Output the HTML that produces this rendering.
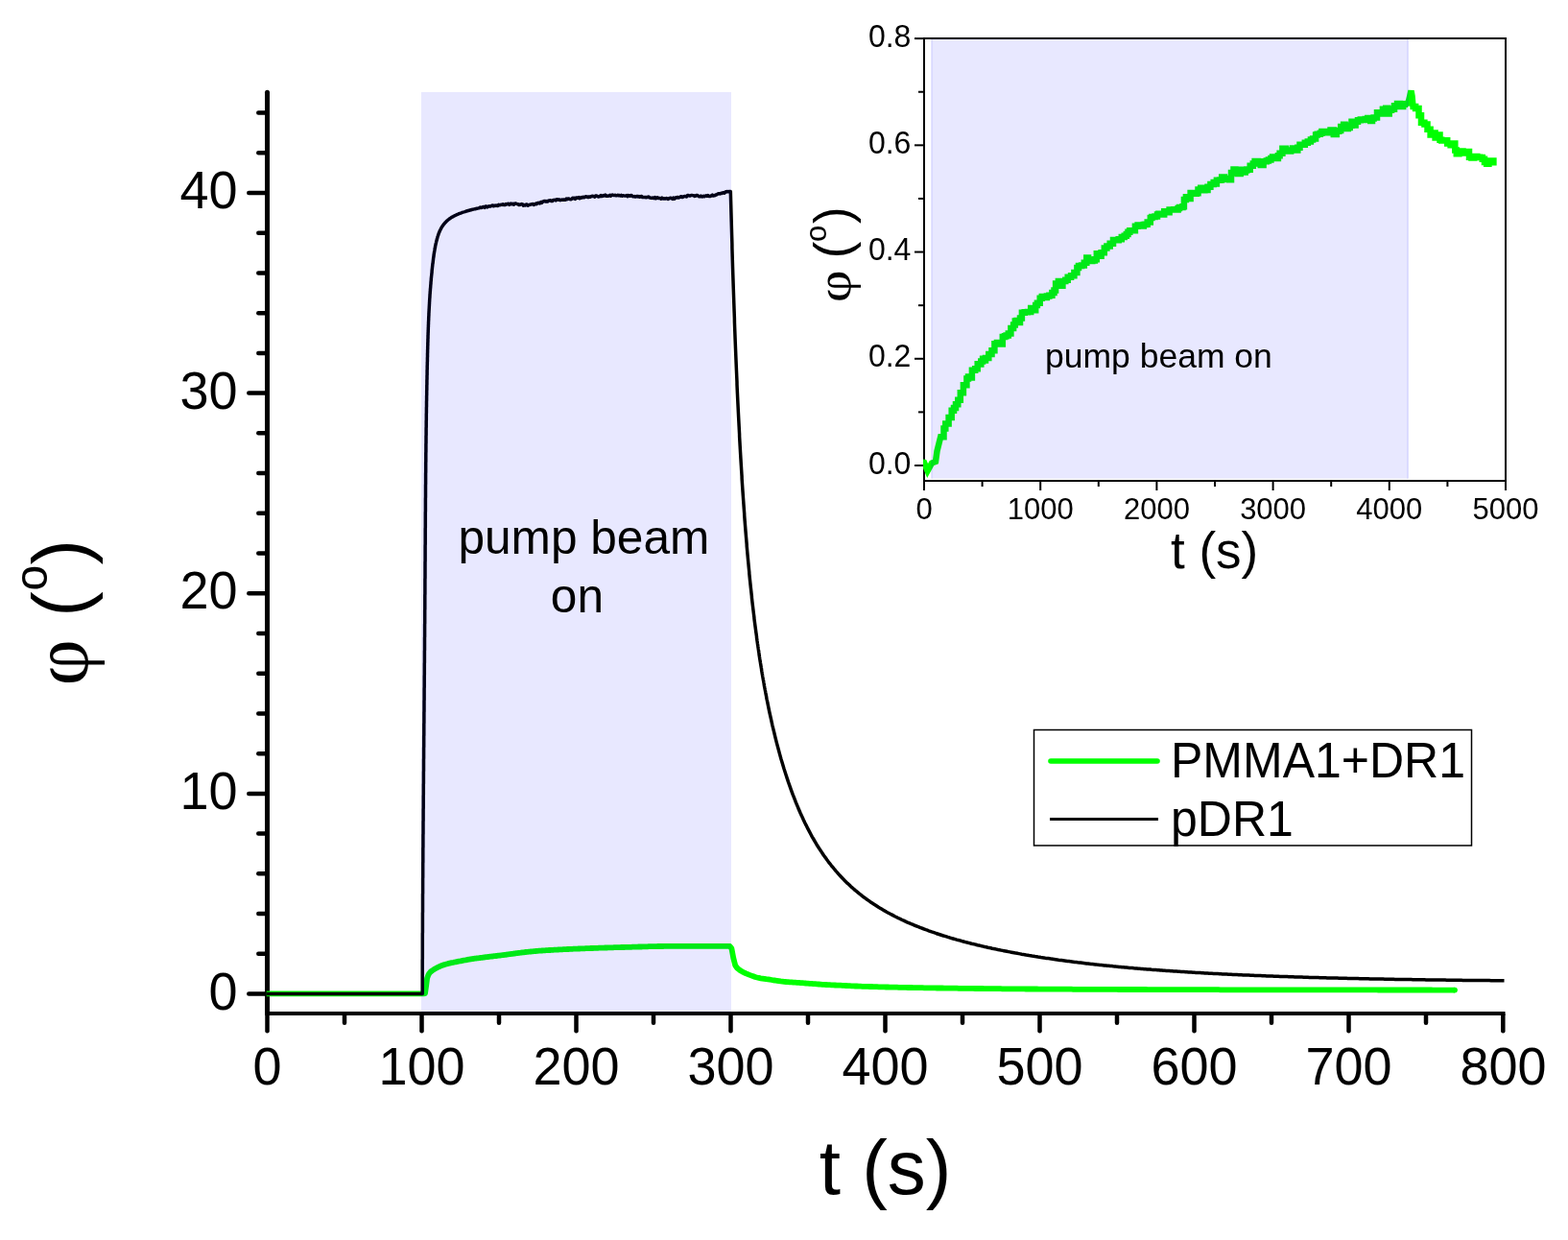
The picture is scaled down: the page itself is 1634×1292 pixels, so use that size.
<!DOCTYPE html>
<html><head><meta charset="utf-8"><title>plot</title>
<style>html,body{margin:0;padding:0;background:#fff;overflow:hidden}svg{display:block}</style>
</head><body>
<svg width="1634" height="1292" viewBox="0 0 1634 1292">
<rect x="0" y="0" width="1634" height="1292" fill="#ffffff"/>
<g stroke="#000" fill="none">
<line x1="278.5" y1="96.3" x2="278.5" y2="1056" stroke-width="5" stroke-linecap="round"/>
<line x1="276" y1="1056" x2="1568.5" y2="1056" stroke-width="4"/>
<line x1="259.3" y1="1035.50" x2="278" y2="1035.50" stroke-width="4.5" stroke-linecap="round"/>
<line x1="269.3" y1="993.77" x2="278" y2="993.77" stroke-width="4.5" stroke-linecap="round"/>
<line x1="269.3" y1="952.05" x2="278" y2="952.05" stroke-width="4.5" stroke-linecap="round"/>
<line x1="269.3" y1="910.33" x2="278" y2="910.33" stroke-width="4.5" stroke-linecap="round"/>
<line x1="269.3" y1="868.60" x2="278" y2="868.60" stroke-width="4.5" stroke-linecap="round"/>
<line x1="259.3" y1="826.88" x2="278" y2="826.88" stroke-width="4.5" stroke-linecap="round"/>
<line x1="269.3" y1="785.15" x2="278" y2="785.15" stroke-width="4.5" stroke-linecap="round"/>
<line x1="269.3" y1="743.42" x2="278" y2="743.42" stroke-width="4.5" stroke-linecap="round"/>
<line x1="269.3" y1="701.70" x2="278" y2="701.70" stroke-width="4.5" stroke-linecap="round"/>
<line x1="269.3" y1="659.97" x2="278" y2="659.97" stroke-width="4.5" stroke-linecap="round"/>
<line x1="259.3" y1="618.25" x2="278" y2="618.25" stroke-width="4.5" stroke-linecap="round"/>
<line x1="269.3" y1="576.52" x2="278" y2="576.52" stroke-width="4.5" stroke-linecap="round"/>
<line x1="269.3" y1="534.80" x2="278" y2="534.80" stroke-width="4.5" stroke-linecap="round"/>
<line x1="269.3" y1="493.07" x2="278" y2="493.07" stroke-width="4.5" stroke-linecap="round"/>
<line x1="269.3" y1="451.35" x2="278" y2="451.35" stroke-width="4.5" stroke-linecap="round"/>
<line x1="259.3" y1="409.62" x2="278" y2="409.62" stroke-width="4.5" stroke-linecap="round"/>
<line x1="269.3" y1="367.90" x2="278" y2="367.90" stroke-width="4.5" stroke-linecap="round"/>
<line x1="269.3" y1="326.17" x2="278" y2="326.17" stroke-width="4.5" stroke-linecap="round"/>
<line x1="269.3" y1="284.45" x2="278" y2="284.45" stroke-width="4.5" stroke-linecap="round"/>
<line x1="269.3" y1="242.73" x2="278" y2="242.73" stroke-width="4.5" stroke-linecap="round"/>
<line x1="259.3" y1="201.00" x2="278" y2="201.00" stroke-width="4.5" stroke-linecap="round"/>
<line x1="269.3" y1="159.27" x2="278" y2="159.27" stroke-width="4.5" stroke-linecap="round"/>
<line x1="269.3" y1="117.55" x2="278" y2="117.55" stroke-width="4.5" stroke-linecap="round"/>
<line x1="278.50" y1="1057" x2="278.50" y2="1074.3" stroke-width="4.5" stroke-linecap="round"/>
<line x1="359.00" y1="1057" x2="359.00" y2="1065.8" stroke-width="4.5" stroke-linecap="round"/>
<line x1="439.50" y1="1057" x2="439.50" y2="1074.3" stroke-width="4.5" stroke-linecap="round"/>
<line x1="520.00" y1="1057" x2="520.00" y2="1065.8" stroke-width="4.5" stroke-linecap="round"/>
<line x1="600.50" y1="1057" x2="600.50" y2="1074.3" stroke-width="4.5" stroke-linecap="round"/>
<line x1="681.00" y1="1057" x2="681.00" y2="1065.8" stroke-width="4.5" stroke-linecap="round"/>
<line x1="761.50" y1="1057" x2="761.50" y2="1074.3" stroke-width="4.5" stroke-linecap="round"/>
<line x1="842.00" y1="1057" x2="842.00" y2="1065.8" stroke-width="4.5" stroke-linecap="round"/>
<line x1="922.50" y1="1057" x2="922.50" y2="1074.3" stroke-width="4.5" stroke-linecap="round"/>
<line x1="1003.00" y1="1057" x2="1003.00" y2="1065.8" stroke-width="4.5" stroke-linecap="round"/>
<line x1="1083.50" y1="1057" x2="1083.50" y2="1074.3" stroke-width="4.5" stroke-linecap="round"/>
<line x1="1164.00" y1="1057" x2="1164.00" y2="1065.8" stroke-width="4.5" stroke-linecap="round"/>
<line x1="1244.50" y1="1057" x2="1244.50" y2="1074.3" stroke-width="4.5" stroke-linecap="round"/>
<line x1="1325.00" y1="1057" x2="1325.00" y2="1065.8" stroke-width="4.5" stroke-linecap="round"/>
<line x1="1405.50" y1="1057" x2="1405.50" y2="1074.3" stroke-width="4.5" stroke-linecap="round"/>
<line x1="1486.00" y1="1057" x2="1486.00" y2="1065.8" stroke-width="4.5" stroke-linecap="round"/>
<line x1="1566.30" y1="1057" x2="1566.30" y2="1074.3" stroke-width="4.5" stroke-linecap="round"/>
</g>
<polyline points="277.8,1035.3 441.5,1035.3 443.0,1035.2 444.1,1027.4 445.1,1019.4 446.2,1016.2 447.2,1014.3 448.3,1013.0 449.4,1012.0 450.4,1011.3 451.5,1010.6 452.5,1009.9 453.6,1009.3 454.6,1008.7 455.7,1008.1 456.8,1007.6 457.8,1007.1 458.9,1006.7 459.9,1006.2 461.0,1005.8 462.1,1005.4 463.1,1005.1 464.2,1004.8 465.2,1004.5 466.3,1004.2 467.4,1003.9 468.4,1003.7 469.5,1003.4 470.5,1003.2 471.6,1003.0 472.6,1002.8 473.7,1002.5 474.8,1002.3 475.8,1002.1 476.9,1001.9 477.9,1001.7 479.0,1001.5 480.1,1001.3 481.1,1001.1 482.2,1000.9 483.2,1000.7 484.3,1000.5 485.4,1000.3 486.4,1000.1 487.5,999.9 488.5,999.7 489.6,999.5 490.6,999.4 491.7,999.2 492.8,999.0 493.8,998.9 494.9,998.7 495.9,998.6 497.0,998.4 498.1,998.3 499.1,998.2 500.2,998.0 501.2,997.9 502.3,997.8 503.4,997.6 504.4,997.5 505.5,997.4 506.5,997.2 507.6,997.1 508.6,997.0 509.7,996.9 510.8,996.7 511.8,996.6 512.9,996.5 513.9,996.4 515.0,996.2 516.1,996.1 517.1,996.0 518.2,995.9 519.2,995.7 520.3,995.6 521.4,995.5 522.4,995.3 523.5,995.2 524.5,995.1 525.6,994.9 526.7,994.8 527.7,994.6 528.8,994.5 529.8,994.3 530.9,994.2 531.9,994.1 533.0,993.9 534.1,993.8 535.1,993.6 536.2,993.5 537.2,993.4 538.3,993.2 539.4,993.1 540.4,992.9 541.5,992.8 542.5,992.7 543.6,992.5 544.7,992.4 545.7,992.3 546.8,992.1 547.8,992.0 548.9,991.9 549.9,991.8 551.0,991.7 552.1,991.6 553.1,991.5 554.2,991.4 555.2,991.3 556.3,991.2 557.4,991.1 558.4,991.0 559.5,990.9 560.5,990.8 561.6,990.7 562.7,990.7 563.7,990.6 564.8,990.5 565.8,990.4 566.9,990.4 567.9,990.3 569.0,990.2 570.1,990.2 571.1,990.1 572.2,990.0 573.2,990.0 574.3,989.9 575.4,989.9 576.4,989.8 577.5,989.7 578.5,989.7 579.6,989.6 580.7,989.6 581.7,989.5 582.8,989.4 583.8,989.4 584.9,989.3 585.9,989.3 587.0,989.2 588.1,989.2 589.1,989.1 590.2,989.1 591.2,989.0 592.3,989.0 593.4,988.9 594.4,988.9 595.5,988.8 596.5,988.8 597.6,988.7 598.7,988.7 599.7,988.7 600.8,988.6 601.8,988.6 602.9,988.5 603.9,988.5 605.0,988.4 606.1,988.4 607.1,988.4 608.2,988.3 609.2,988.3 610.3,988.2 611.4,988.2 612.4,988.1 613.5,988.1 614.5,988.1 615.6,988.0 616.7,988.0 617.7,988.0 618.8,987.9 619.8,987.9 620.9,987.8 621.9,987.8 623.0,987.8 624.1,987.7 625.1,987.7 626.2,987.7 627.2,987.6 628.3,987.6 629.4,987.6 630.4,987.5 631.5,987.5 632.5,987.5 633.6,987.4 634.7,987.4 635.7,987.4 636.8,987.3 637.8,987.3 638.9,987.3 639.9,987.2 641.0,987.2 642.1,987.2 643.1,987.2 644.2,987.1 645.2,987.1 646.3,987.1 647.4,987.0 648.4,987.0 649.5,987.0 650.5,987.0 651.6,986.9 652.7,986.9 653.7,986.9 654.8,986.8 655.8,986.8 656.9,986.8 657.9,986.8 659.0,986.7 660.1,986.7 661.1,986.7 662.2,986.6 663.2,986.6 664.3,986.6 665.4,986.5 666.4,986.5 667.5,986.5 668.5,986.5 669.6,986.4 670.7,986.4 671.7,986.4 672.8,986.3 673.8,986.3 674.9,986.3 675.9,986.2 677.0,986.2 678.1,986.2 679.1,986.2 680.2,986.1 681.2,986.1 682.3,986.1 683.4,986.1 684.4,986.1 685.5,986.0 686.5,986.0 687.6,986.0 688.7,986.0 689.7,986.0 690.8,986.0 691.8,985.9 692.9,985.9 694.0,985.9 695.0,985.9 696.1,985.9 697.1,985.9 698.2,985.9 699.2,985.9 700.3,985.9 701.4,985.9 702.4,985.9 703.5,985.9 704.5,985.9 705.6,985.9 706.7,985.9 707.7,985.9 708.8,985.9 709.8,985.9 710.9,985.9 712.0,985.9 713.0,985.9 714.1,985.9 715.1,985.9 716.2,985.9 717.2,985.9 718.3,985.9 719.4,985.9 720.4,985.9 721.5,985.9 722.5,985.9 723.6,985.9 724.7,985.9 725.7,985.9 726.8,985.9 727.8,985.9 728.9,985.9 730.0,985.9 731.0,985.9 732.1,985.9 733.1,985.9 734.2,985.9 735.2,985.9 736.3,985.9 737.4,985.9 738.4,985.9 739.5,985.9 740.5,985.9 741.6,985.9 742.7,985.9 743.7,985.9 744.8,985.9 745.8,985.9 746.9,985.9 748.0,985.9 749.0,985.9 750.1,985.9 751.1,985.9 752.2,985.9 753.2,985.9 754.3,985.9 755.4,985.9 756.4,985.9 757.5,985.9 758.5,985.9 759.6,985.9 760.5,986.0 762.4,988.2 764.3,998.2 766.2,1005.8 768.1,1008.5 770.0,1010.2 771.9,1011.5 773.8,1012.6 775.6,1013.5 777.5,1014.3 779.4,1015.1 781.3,1015.9 783.2,1016.6 785.1,1017.3 787.0,1018.0 788.9,1018.5 790.8,1018.9 792.7,1019.3 794.6,1019.6 796.5,1019.9 798.4,1020.2 800.3,1020.4 802.2,1020.7 804.1,1021.0 805.9,1021.3 807.8,1021.5 809.7,1021.8 811.6,1022.1 813.5,1022.4 815.4,1022.6 817.3,1022.8 819.2,1023.0 821.1,1023.1 823.0,1023.3 824.9,1023.4 826.8,1023.6 828.7,1023.7 830.6,1023.8 832.5,1023.9 834.3,1024.1 836.2,1024.2 838.1,1024.3 840.0,1024.5 841.9,1024.6 843.8,1024.8 845.7,1024.9 847.6,1025.1 849.5,1025.2 851.4,1025.4 853.3,1025.5 855.2,1025.6 857.1,1025.8 859.0,1025.9 860.9,1026.0 862.7,1026.1 864.6,1026.2 866.5,1026.3 868.4,1026.4 870.3,1026.5 872.2,1026.6 874.1,1026.7 876.0,1026.7 877.9,1026.8 879.8,1026.9 881.7,1027.0 883.6,1027.1 885.5,1027.2 887.4,1027.3 889.3,1027.4 891.2,1027.5 893.0,1027.5 894.9,1027.6 896.8,1027.7 898.7,1027.8 900.6,1027.8 902.5,1027.9 904.4,1027.9 906.3,1028.0 908.2,1028.0 910.1,1028.1 912.0,1028.2 913.9,1028.2 915.8,1028.3 917.7,1028.3 919.6,1028.4 921.4,1028.4 923.3,1028.5 925.2,1028.5 927.1,1028.6 929.0,1028.6 930.9,1028.6 932.8,1028.7 934.7,1028.7 936.6,1028.8 938.5,1028.8 940.4,1028.8 942.3,1028.9 944.2,1028.9 946.1,1029.0 948.0,1029.0 949.8,1029.0 951.7,1029.1 953.6,1029.1 955.5,1029.1 957.4,1029.2 959.3,1029.2 961.2,1029.2 963.1,1029.3 965.0,1029.3 966.9,1029.3 968.8,1029.3 970.7,1029.4 972.6,1029.4 974.5,1029.4 976.4,1029.5 978.3,1029.5 980.1,1029.5 982.0,1029.5 983.9,1029.6 985.8,1029.6 987.7,1029.6 989.6,1029.6 991.5,1029.7 993.4,1029.7 995.3,1029.7 997.2,1029.7 999.1,1029.8 1001.0,1029.8 1002.9,1029.8 1004.8,1029.8 1006.7,1029.9 1008.5,1029.9 1010.4,1029.9 1012.3,1029.9 1014.2,1029.9 1016.1,1030.0 1018.0,1030.0 1019.9,1030.0 1021.8,1030.0 1023.7,1030.0 1025.6,1030.1 1027.5,1030.1 1029.4,1030.1 1031.3,1030.1 1033.2,1030.1 1035.1,1030.2 1036.9,1030.2 1038.8,1030.2 1040.7,1030.2 1042.6,1030.2 1044.5,1030.3 1046.4,1030.3 1048.3,1030.3 1050.2,1030.3 1052.1,1030.3 1054.0,1030.3 1055.9,1030.4 1057.8,1030.4 1059.7,1030.4 1061.6,1030.4 1063.5,1030.4 1065.4,1030.4 1067.2,1030.4 1069.1,1030.5 1071.0,1030.5 1072.9,1030.5 1074.8,1030.5 1076.7,1030.5 1078.6,1030.5 1080.5,1030.5 1082.4,1030.6 1084.3,1030.6 1086.2,1030.6 1088.1,1030.6 1090.0,1030.6 1091.9,1030.6 1093.8,1030.6 1095.6,1030.6 1097.5,1030.6 1099.4,1030.7 1101.3,1030.7 1103.2,1030.7 1105.1,1030.7 1107.0,1030.7 1108.9,1030.7 1110.8,1030.7 1112.7,1030.7 1114.6,1030.7 1116.5,1030.7 1118.4,1030.8 1120.3,1030.8 1122.2,1030.8 1124.0,1030.8 1125.9,1030.8 1127.8,1030.8 1129.7,1030.8 1131.6,1030.8 1133.5,1030.8 1135.4,1030.8 1137.3,1030.8 1139.2,1030.9 1141.1,1030.9 1143.0,1030.9 1144.9,1030.9 1146.8,1030.9 1148.7,1030.9 1150.6,1030.9 1152.5,1030.9 1154.3,1030.9 1156.2,1030.9 1158.1,1030.9 1160.0,1030.9 1161.9,1030.9 1163.8,1030.9 1165.7,1031.0 1167.6,1031.0 1169.5,1031.0 1171.4,1031.0 1173.3,1031.0 1175.2,1031.0 1177.1,1031.0 1179.0,1031.0 1180.9,1031.0 1182.7,1031.0 1184.6,1031.0 1186.5,1031.0 1188.4,1031.0 1190.3,1031.0 1192.2,1031.0 1194.1,1031.0 1196.0,1031.1 1197.9,1031.1 1199.8,1031.1 1201.7,1031.1 1203.6,1031.1 1205.5,1031.1 1207.4,1031.1 1209.3,1031.1 1211.1,1031.1 1213.0,1031.1 1214.9,1031.1 1216.8,1031.1 1218.7,1031.1 1220.6,1031.1 1222.5,1031.1 1224.4,1031.1 1226.3,1031.1 1228.2,1031.1 1230.1,1031.2 1232.0,1031.2 1233.9,1031.2 1235.8,1031.2 1237.7,1031.2 1239.6,1031.2 1241.4,1031.2 1243.3,1031.2 1245.2,1031.2 1247.1,1031.2 1249.0,1031.2 1250.9,1031.2 1252.8,1031.2 1254.7,1031.2 1256.6,1031.2 1258.5,1031.2 1260.4,1031.2 1262.3,1031.2 1264.2,1031.2 1266.1,1031.2 1268.0,1031.2 1269.8,1031.2 1271.7,1031.3 1273.6,1031.3 1275.5,1031.3 1277.4,1031.3 1279.3,1031.3 1281.2,1031.3 1283.1,1031.3 1285.0,1031.3 1286.9,1031.3 1288.8,1031.3 1290.7,1031.3 1292.6,1031.3 1294.5,1031.3 1296.4,1031.3 1298.2,1031.3 1300.1,1031.3 1302.0,1031.3 1303.9,1031.3 1305.8,1031.3 1307.7,1031.3 1309.6,1031.3 1311.5,1031.3 1313.4,1031.3 1315.3,1031.3 1317.2,1031.3 1319.1,1031.3 1321.0,1031.3 1322.9,1031.3 1324.8,1031.3 1326.7,1031.3 1328.5,1031.3 1330.4,1031.3 1332.3,1031.3 1334.2,1031.3 1336.1,1031.3 1338.0,1031.3 1339.9,1031.3 1341.8,1031.3 1343.7,1031.3 1345.6,1031.3 1347.5,1031.3 1349.4,1031.4 1351.3,1031.4 1353.2,1031.4 1355.1,1031.4 1356.9,1031.4 1358.8,1031.4 1360.7,1031.4 1362.6,1031.4 1364.5,1031.4 1366.4,1031.4 1368.3,1031.4 1370.2,1031.4 1372.1,1031.4 1374.0,1031.4 1375.9,1031.4 1377.8,1031.4 1379.7,1031.4 1381.6,1031.4 1383.5,1031.4 1385.3,1031.4 1387.2,1031.4 1389.1,1031.4 1391.0,1031.4 1392.9,1031.4 1394.8,1031.4 1396.7,1031.4 1398.6,1031.4 1400.5,1031.4 1402.4,1031.4 1404.3,1031.4 1406.2,1031.4 1408.1,1031.4 1410.0,1031.4 1411.9,1031.4 1413.8,1031.4 1415.6,1031.4 1417.5,1031.4 1419.4,1031.4 1421.3,1031.4 1423.2,1031.4 1425.1,1031.4 1427.0,1031.4 1428.9,1031.4 1430.8,1031.4 1432.7,1031.4 1434.6,1031.4 1436.5,1031.5 1438.4,1031.5 1440.3,1031.5 1442.2,1031.5 1444.0,1031.5 1445.9,1031.5 1447.8,1031.5 1449.7,1031.5 1451.6,1031.5 1453.5,1031.5 1455.4,1031.5 1457.3,1031.5 1459.2,1031.5 1461.1,1031.5 1463.0,1031.5 1464.9,1031.5 1466.8,1031.5 1468.7,1031.5 1470.6,1031.5 1472.4,1031.5 1474.3,1031.5 1476.2,1031.5 1478.1,1031.5 1480.0,1031.5 1481.9,1031.5 1483.8,1031.5 1485.7,1031.5 1487.6,1031.5 1489.5,1031.5 1491.4,1031.5 1493.3,1031.6 1495.2,1031.6 1497.1,1031.6 1499.0,1031.6 1500.9,1031.6 1502.7,1031.6 1504.6,1031.6 1506.5,1031.6 1508.4,1031.6 1510.3,1031.6 1512.2,1031.6 1514.1,1031.6 1516.0,1031.6" fill="none" stroke="#00ff00" stroke-width="5.8" stroke-linejoin="round" stroke-linecap="butt"/>
<circle cx="1516.0" cy="1031.6" r="2.9" fill="#00ff00"/>
<polyline points="277.8,1035.5 440.2,1035.5 440.2,1034.6 440.2,1033.6 440.2,1032.7 440.2,1031.8 440.2,1030.9 440.2,1029.9 440.2,1029.0 440.2,1028.1 440.2,1027.2 440.2,1026.2 440.2,1025.3 440.2,1024.4 440.2,1023.5 440.2,1022.5 440.2,1021.6 440.2,1020.7 440.2,1019.8 440.2,1018.8 440.2,1017.9 440.2,1017.0 440.2,1016.1 440.2,1015.1 440.2,1014.2 440.2,1013.3 440.2,1012.4 440.2,1011.4 440.2,1010.5 440.2,1009.6 440.2,1008.7 440.2,1007.7 440.2,1006.8 440.2,1005.9 440.2,1005.0 440.2,1004.0 440.2,1003.1 440.2,1002.2 440.2,1001.3 440.2,1000.3 440.3,999.4 440.3,998.5 440.3,997.6 440.3,996.6 440.3,995.7 440.3,994.8 440.3,993.9 440.3,992.9 440.3,992.0 440.3,991.1 440.3,990.2 440.3,989.2 440.3,988.3 440.3,987.4 440.3,986.4 440.3,985.5 440.3,984.6 440.3,983.7 440.3,982.7 440.3,981.8 440.3,980.9 440.3,980.0 440.3,979.0 440.3,978.1 440.3,977.2 440.3,976.3 440.3,975.3 440.3,974.4 440.3,973.5 440.3,972.6 440.4,971.6 440.4,970.7 440.4,969.8 440.4,968.9 440.4,967.9 440.4,967.0 440.4,966.1 440.4,965.2 440.4,964.2 440.4,963.3 440.4,962.4 440.4,961.5 440.4,960.5 440.4,959.6 440.4,958.7 440.4,957.8 440.4,956.8 440.4,955.9 440.4,955.0 440.4,954.1 440.4,953.1 440.4,952.2 440.4,951.3 440.5,950.4 440.5,949.4 440.5,948.5 440.5,947.6 440.5,946.7 440.5,945.7 440.5,944.8 440.5,943.9 440.5,943.0 440.5,942.0 440.5,941.1 440.5,940.2 440.5,939.2 440.5,938.3 440.5,937.4 440.5,936.5 440.5,935.5 440.5,934.6 440.5,933.7 440.5,932.8 440.5,931.8 440.6,930.9 440.6,930.0 440.6,929.1 440.6,928.1 440.6,927.2 440.6,926.3 440.6,925.4 440.6,924.4 440.6,923.5 440.6,922.6 440.6,921.7 440.6,920.7 440.6,919.8 440.6,918.9 440.6,918.0 440.6,917.0 440.6,916.1 440.6,915.2 440.7,914.3 440.7,913.3 440.7,912.4 440.7,911.5 440.7,910.6 440.7,909.6 440.7,908.7 440.7,907.8 440.7,906.9 440.7,905.9 440.7,905.0 440.7,904.1 440.7,903.2 440.7,902.2 440.7,901.3 440.7,900.4 440.7,899.5 440.8,898.5 440.8,897.6 440.8,896.7 440.8,895.8 440.8,894.8 440.8,893.9 440.8,893.0 440.8,892.0 440.8,891.1 440.8,890.2 440.8,889.3 440.8,888.3 440.8,887.4 440.8,886.5 440.8,885.6 440.8,884.6 440.8,883.7 440.9,882.8 440.9,881.9 440.9,880.9 440.9,880.0 440.9,879.1 440.9,878.2 440.9,877.2 440.9,876.3 440.9,875.4 440.9,874.5 440.9,873.5 440.9,872.6 440.9,871.7 440.9,870.8 440.9,869.8 441.0,868.9 441.0,868.0 441.0,867.1 441.0,866.1 441.0,865.2 441.0,864.3 441.0,863.4 441.0,862.4 441.0,861.5 441.0,860.6 441.0,859.7 441.0,858.7 441.0,857.8 441.0,856.9 441.0,856.0 441.1,855.0 441.1,854.1 441.1,853.2 441.1,852.3 441.1,851.3 441.1,850.4 441.1,849.5 441.1,848.6 441.1,847.6 441.1,846.7 441.1,845.8 441.1,844.9 441.1,843.9 441.1,843.0 441.2,842.1 441.2,841.1 441.2,840.2 441.2,839.3 441.2,838.4 441.2,837.4 441.2,836.5 441.2,835.6 441.2,834.7 441.2,833.7 441.2,832.8 441.2,831.9 441.2,831.0 441.2,830.0 441.2,829.1 441.3,828.2 441.3,827.3 441.3,826.3 441.3,825.4 441.3,824.5 441.3,823.6 441.3,822.6 441.3,821.7 441.3,820.8 441.3,819.9 441.3,818.9 441.3,818.0 441.3,817.1 441.4,816.2 441.4,815.2 441.4,814.3 441.4,813.4 441.4,812.5 441.4,811.5 441.4,810.6 441.4,809.7 441.4,808.8 441.4,807.8 441.4,806.9 441.4,806.0 441.4,805.1 441.4,804.1 441.5,803.2 441.5,802.3 441.5,801.4 441.5,800.4 441.5,799.5 441.5,798.6 441.5,797.7 441.5,796.7 441.5,795.8 441.5,794.9 441.5,794.0 441.5,793.0 441.5,792.1 441.5,791.2 441.6,790.2 441.6,789.3 441.6,788.4 441.6,787.5 441.6,786.5 441.6,785.6 441.6,784.7 441.6,783.8 441.6,782.8 441.6,781.9 441.6,781.0 441.6,780.1 441.6,779.1 441.7,778.2 441.7,777.3 441.7,776.4 441.7,775.4 441.7,774.5 441.7,773.6 441.7,772.7 441.7,771.7 441.7,770.8 441.7,769.9 441.7,769.0 441.7,768.0 441.7,767.1 441.8,766.2 441.8,765.3 441.8,764.3 441.8,763.4 441.8,762.5 441.8,761.6 441.8,760.6 441.8,759.7 441.8,758.8 441.8,757.9 441.8,756.9 441.8,756.0 441.8,755.1 441.8,754.2 441.9,753.2 441.9,752.3 441.9,751.4 441.9,750.5 441.9,749.5 441.9,748.6 441.9,747.7 441.9,746.8 441.9,745.8 441.9,744.9 441.9,744.0 441.9,743.1 441.9,742.1 442.0,741.2 442.0,740.3 442.0,739.3 442.0,738.4 442.0,737.5 442.0,736.6 442.0,735.6 442.0,734.7 442.0,733.8 442.0,732.9 442.0,731.9 442.0,731.0 442.0,730.1 442.1,729.2 442.1,728.2 442.1,727.3 442.1,726.4 442.1,725.5 442.1,724.5 442.1,723.6 442.1,722.7 442.1,721.8 442.1,720.8 442.1,719.9 442.1,719.0 442.1,718.1 442.1,717.1 442.2,716.2 442.2,715.3 442.2,714.4 442.2,713.4 442.2,712.5 442.2,711.6 442.2,710.7 442.2,709.7 442.2,708.8 442.2,707.9 442.2,707.0 442.2,706.0 442.2,705.1 442.2,704.2 442.3,703.3 442.3,702.3 442.3,701.4 442.3,700.5 442.3,699.6 442.3,698.6 442.3,697.7 442.3,696.8 442.3,695.9 442.3,694.9 442.3,694.0 442.3,693.1 442.3,692.2 442.3,691.2 442.4,690.3 442.4,689.4 442.4,688.4 442.4,687.5 442.4,686.6 442.4,685.7 442.4,684.7 442.4,683.8 442.4,682.9 442.4,682.0 442.4,681.0 442.4,680.1 442.4,679.2 442.4,678.3 442.5,677.3 442.5,676.4 442.5,675.5 442.5,674.6 442.5,673.6 442.5,672.7 442.5,671.8 442.5,670.9 442.5,669.9 442.5,669.0 442.5,668.1 442.5,667.2 442.5,666.2 442.5,665.3 442.5,664.4 442.6,663.5 442.6,662.5 442.6,661.6 442.6,660.7 442.6,659.8 442.6,658.8 442.6,657.9 442.6,657.0 442.6,656.1 442.6,655.1 442.6,654.2 442.6,653.3 442.6,652.4 442.6,651.4 442.6,650.5 442.7,649.6 442.7,648.7 442.7,647.7 442.7,646.8 442.7,645.9 442.7,645.0 442.7,644.0 442.7,643.1 442.7,642.2 442.7,641.2 442.7,640.3 442.7,639.4 442.7,638.5 442.7,637.5 442.7,636.6 442.7,635.7 442.8,634.8 442.8,633.8 442.8,632.9 442.8,632.0 442.8,631.1 442.8,630.1 442.8,629.2 442.8,628.3 442.8,627.4 442.8,626.4 442.8,625.5 442.8,624.6 442.8,623.7 442.8,622.7 442.8,621.8 442.8,620.9 442.8,620.0 442.9,619.0 442.9,618.1 442.9,617.2 442.9,616.3 442.9,615.3 442.9,614.4 442.9,613.5 442.9,612.6 442.9,611.6 442.9,610.7 442.9,609.8 442.9,608.9 442.9,607.9 442.9,607.0 442.9,606.1 442.9,605.2 442.9,604.2 442.9,603.3 443.0,602.4 443.0,601.5 443.0,600.5 443.0,599.6 443.0,598.7 443.0,597.8 443.0,596.8 443.0,595.9 443.0,595.0 443.0,594.0 443.0,593.1 443.0,592.2 443.0,591.3 443.0,590.3 443.0,589.4 443.0,588.5 443.0,587.6 443.0,586.6 443.0,585.7 443.1,584.8 443.1,583.9 443.1,582.9 443.1,582.0 443.1,581.1 443.1,580.2 443.1,579.2 443.1,578.3 443.1,577.4 443.1,576.5 443.1,575.5 443.1,574.6 443.1,573.7 443.1,572.8 443.1,571.8 443.1,570.9 443.1,570.0 443.1,569.1 443.1,568.1 443.2,567.2 443.2,566.3 443.2,565.4 443.2,564.4 443.2,563.5 443.2,562.6 443.2,561.7 443.2,560.7 443.2,559.8 443.2,558.9 443.2,558.0 443.2,557.0 443.2,556.1 443.2,555.2 443.2,554.3 443.2,553.3 443.2,552.4 443.2,551.5 443.2,550.6 443.3,549.6 443.3,548.7 443.3,547.8 443.3,546.8 443.3,545.9 443.3,545.0 443.3,544.1 443.3,543.1 443.3,542.2 443.3,541.3 443.3,540.4 443.3,539.4 443.3,538.5 443.3,537.6 443.3,536.7 443.3,535.7 443.3,534.8 443.3,533.9 443.4,533.0 443.4,532.0 443.4,531.1 443.4,530.2 443.4,529.3 443.4,528.3 443.4,527.4 443.4,526.5 443.4,525.6 443.4,524.6 443.4,523.7 443.4,522.8 443.4,521.9 443.4,520.9 443.4,520.0 443.4,519.1 443.5,518.2 443.5,517.2 443.5,516.3 443.5,515.4 443.5,514.5 443.5,513.5 443.5,512.6 443.5,511.7 443.5,510.8 443.5,509.8 443.5,508.9 443.5,508.0 443.5,507.1 443.5,506.1 443.5,505.2 443.6,504.3 443.6,503.4 443.6,502.4 443.6,501.5 443.6,500.6 443.6,499.7 443.6,498.7 443.6,497.8 443.6,496.9 443.6,495.9 443.6,495.0 443.6,494.1 443.6,493.2 443.7,492.2 443.7,491.3 443.7,490.4 443.7,489.5 443.7,488.5 443.7,487.6 443.7,486.7 443.7,485.8 443.7,484.8 443.7,483.9 443.7,483.0 443.7,482.1 443.8,481.1 443.8,480.2 443.8,479.3 443.8,478.4 443.8,477.4 443.8,476.5 443.8,475.6 443.8,474.7 443.8,473.7 443.8,472.8 443.8,471.9 443.9,471.0 443.9,470.0 443.9,469.1 443.9,468.2 443.9,467.3 443.9,466.3 443.9,465.4 443.9,464.5 443.9,463.6 443.9,462.6 444.0,461.7 444.0,460.8 444.0,459.9 444.0,458.9 444.0,458.0 444.0,457.1 444.0,456.2 444.0,455.2 444.0,454.3 444.1,453.4 444.1,452.5 444.1,451.5 444.1,450.6 444.1,449.7 444.1,448.8 444.1,447.8 444.1,446.9 444.1,446.0 444.2,445.0 444.2,444.1 444.2,443.2 444.2,442.3 444.2,441.3 444.2,440.4 444.2,439.5 444.2,438.6 444.3,437.6 444.3,436.7 444.3,435.8 444.3,434.9 444.3,433.9 444.3,433.0 444.3,432.1 444.3,431.2 444.4,430.2 444.4,429.3 444.4,428.4 444.4,427.5 444.4,426.5 444.4,425.6 444.4,424.7 444.5,423.8 444.5,422.8 444.5,421.9 444.5,421.0 444.5,420.1 444.5,419.1 444.5,418.2 444.6,417.3 444.6,416.4 444.6,415.4 444.6,414.5 444.6,413.6 444.6,412.7 444.7,411.7 444.7,410.8 444.7,409.9 444.7,409.0 444.7,408.0 444.7,407.1 444.8,406.2 444.8,405.3 444.8,404.3 444.8,403.4 444.8,402.5 444.8,401.6 444.9,400.6 444.9,399.7 444.9,398.8 444.9,397.9 444.9,396.9 444.9,396.0 445.0,395.1 445.0,394.2 445.0,393.2 445.0,392.3 445.0,391.4 445.1,390.5 445.1,389.5 445.1,388.6 445.1,387.7 445.1,386.8 445.1,385.8 445.2,384.9 445.2,384.0 445.2,383.0 445.2,382.1 445.2,381.2 445.3,380.3 445.3,379.3 445.3,378.4 445.3,377.5 445.4,376.6 445.4,375.6 445.4,374.7 445.4,373.8 445.4,372.9 445.5,371.9 445.5,371.0 445.5,370.1 445.5,369.2 445.5,368.2 445.6,367.3 445.6,366.4 445.6,365.5 445.6,364.5 445.7,363.6 445.7,362.7 445.7,361.8 445.7,360.8 445.8,359.9 445.8,359.0 445.8,358.1 445.8,357.1 445.9,356.2 445.9,355.3 445.9,354.4 445.9,353.4 446.0,352.5 446.0,351.6 446.0,350.7 446.0,349.7 446.1,348.8 446.1,347.9 446.1,347.0 446.2,346.0 446.2,345.1 446.2,344.2 446.3,343.3 446.3,342.3 446.3,341.4 446.4,340.5 446.4,339.6 446.4,338.6 446.5,337.7 446.5,336.8 446.5,335.9 446.6,334.9 446.6,334.0 446.7,333.1 446.7,332.2 446.7,331.2 446.8,330.3 446.8,329.4 446.9,328.5 446.9,327.5 446.9,326.6 447.0,325.7 447.0,324.8 447.1,323.8 447.1,322.9 447.2,322.0 447.2,321.1 447.3,320.2 447.3,319.2 447.4,318.3 447.4,317.4 447.5,316.5 447.5,315.5 447.6,314.6 447.6,313.7 447.7,312.8 447.7,311.8 447.8,310.9 447.9,310.0 447.9,309.1 448.0,308.1 448.0,307.2 448.1,306.3 448.2,305.4 448.2,304.5 448.3,303.5 448.4,302.6 448.4,301.7 448.5,300.8 448.6,299.8 448.7,298.9 448.7,298.0 448.8,297.1 448.9,296.1 449.0,295.2 449.0,294.3 449.1,293.4 449.2,292.5 449.3,291.5 449.3,290.6 449.4,289.7 449.5,288.8 449.6,287.8 449.7,286.9 449.8,286.0 449.9,285.1 450.0,284.2 450.1,283.2 450.1,282.3 450.2,281.4 450.3,280.5 450.4,279.6 450.5,278.6 450.6,277.7 450.7,276.8 450.8,275.9 450.9,274.9 451.1,274.0 451.2,273.1 451.3,272.2 451.4,271.3 451.5,270.3 451.6,269.4 451.7,268.5 451.9,267.6 452.0,266.7 452.1,265.8 452.2,264.8 452.4,263.9 452.5,263.0 452.7,262.1 452.8,261.2 453.0,260.3 453.1,259.4 453.3,258.5 453.5,257.6 453.6,256.7 453.8,255.7 454.0,254.8 454.2,253.9 454.4,253.1 454.6,252.2 454.8,251.3 455.1,250.4 455.3,249.5 455.5,248.6 455.8,247.7 456.0,246.8 456.3,246.0 456.6,245.1 456.9,244.2 457.2,243.3 457.5,242.5 457.9,241.6 458.3,240.8 458.6,239.9 459.1,239.1 459.5,238.3 459.9,237.5 460.4,236.6 460.9,235.8 461.5,235.1 462.0,234.3 462.6,233.5 463.2,232.8 463.8,232.1 464.5,231.4 465.1,230.8 465.8,230.1 466.5,229.5 467.2,228.9 467.9,228.4 468.6,227.8 469.4,227.3 470.1,226.8 470.9,226.3 471.7,225.9 472.5,225.4 473.3,225.0 474.1,224.6 474.9,224.2 475.7,223.8 476.6,223.4 477.4,223.1 478.3,222.7 479.1,222.4 480.0,222.1 480.9,221.8 481.7,221.4 482.6,221.1 483.5,220.9 484.4,220.6 485.2,220.3 486.1,220.0 487.0,219.8 487.9,219.5 488.8,219.3 489.7,219.0 490.6,218.8 491.5,218.5 492.4,218.3 493.3,218.1 494.2,217.9 495.1,217.7 496.0,217.5 496.9,217.3 497.8,217.1 498.7,216.9 499.7,216.7 500.6,216.0 501.5,216.4 502.4,216.3 503.3,215.4 504.2,215.4 505.1,216.3 506.0,215.0 507.0,214.9 507.9,215.9 508.8,215.3 509.7,214.8 510.6,214.9 511.5,214.9 512.4,214.3 513.3,214.0 514.3,214.7 515.2,214.5 516.1,214.1 517.0,214.4 517.9,214.0 518.8,214.5 519.7,213.3 520.7,213.7 521.6,213.5 522.5,213.2 523.4,213.4 524.3,212.8 525.2,213.6 526.2,213.6 527.1,212.5 528.0,212.9 528.9,212.5 529.9,212.2 530.8,213.3 531.7,212.6 532.6,212.1 533.6,212.8 534.5,212.2 535.4,213.2 536.3,212.2 537.3,212.0 538.2,212.3 539.1,212.6 540.0,212.8 540.9,213.5 541.9,213.3 542.8,212.9 543.7,212.6 544.6,212.9 545.5,214.2 546.4,213.5 547.4,213.9 548.3,213.0 549.2,213.0 550.1,214.1 551.0,213.7 551.9,213.3 552.8,213.2 553.7,212.8 554.7,212.8 555.6,212.5 556.5,213.4 557.4,212.7 558.3,212.1 559.2,212.7 560.1,211.7 561.0,211.3 561.9,211.8 562.8,211.9 563.7,210.5 564.6,211.3 565.5,210.2 566.4,209.8 567.3,209.5 568.2,209.6 569.1,210.1 570.0,209.6 570.9,209.9 571.8,208.9 572.8,208.9 573.7,208.7 574.6,209.6 575.5,209.5 576.4,208.5 577.3,208.6 578.3,208.3 579.2,208.9 580.1,207.8 581.0,207.8 581.9,208.2 582.9,207.9 583.8,208.7 584.7,208.4 585.6,208.1 586.5,208.2 587.5,208.1 588.4,208.2 589.3,208.3 590.2,207.1 591.1,207.7 592.1,206.9 593.0,207.2 593.9,207.6 594.8,207.7 595.8,207.4 596.7,206.3 597.6,206.7 598.5,206.3 599.4,207.4 600.4,206.1 601.3,206.1 602.2,206.2 603.1,205.6 604.1,206.7 605.0,206.3 605.9,205.5 606.8,205.9 607.8,205.2 608.7,205.8 609.6,205.2 610.5,204.8 611.4,204.9 612.4,205.4 613.3,205.4 614.2,204.9 615.1,205.2 616.1,204.7 617.0,204.3 617.9,204.5 618.8,204.6 619.8,205.2 620.7,204.0 621.6,203.9 622.5,204.5 623.5,205.0 624.4,204.8 625.3,204.5 626.2,203.5 627.1,204.5 628.1,204.3 629.0,203.5 629.9,203.9 630.8,203.2 631.8,204.3 632.7,204.1 633.6,204.2 634.5,204.1 635.5,203.4 636.4,204.1 637.3,203.3 638.2,203.1 639.1,203.5 640.1,203.6 641.0,203.3 641.9,203.8 642.8,203.8 643.8,203.3 644.7,203.8 645.6,203.5 646.5,204.0 647.4,203.4 648.4,204.2 649.3,203.7 650.2,203.9 651.1,204.1 652.1,203.9 653.0,203.6 653.9,204.7 654.8,203.5 655.7,203.9 656.7,204.2 657.6,203.5 658.5,203.8 659.4,204.7 660.4,204.8 661.3,204.6 662.2,205.1 663.1,204.9 664.0,204.4 665.0,204.9 665.9,204.6 666.8,205.2 667.7,204.8 668.7,204.5 669.6,205.6 670.5,205.4 671.4,205.6 672.3,205.4 673.3,205.8 674.2,205.4 675.1,205.6 676.0,205.0 677.0,205.8 677.9,206.2 678.8,206.2 679.7,206.4 680.6,206.0 681.6,206.6 682.5,205.6 683.4,206.8 684.3,206.1 685.3,205.8 686.2,206.6 687.1,206.5 688.0,206.5 689.0,207.2 689.9,206.2 690.8,207.0 691.7,206.8 692.7,207.0 693.6,207.0 694.5,206.5 695.4,207.0 696.3,207.5 697.3,206.6 698.2,206.3 699.1,206.3 700.0,206.8 700.9,207.4 701.8,206.0 702.8,207.2 703.7,206.4 704.6,205.7 705.5,205.9 706.4,205.4 707.3,206.0 708.2,205.6 709.1,205.0 710.1,204.8 711.0,205.5 711.9,205.2 712.8,204.6 713.7,204.4 714.6,204.7 715.5,205.0 716.5,203.6 717.4,203.6 718.3,203.9 719.2,204.0 720.2,203.4 721.1,203.4 722.0,203.6 722.9,203.8 723.9,204.4 724.8,204.2 725.7,203.4 726.7,203.5 727.6,204.1 728.5,204.7 729.5,204.8 730.4,204.1 731.3,204.8 732.2,204.9 733.2,204.2 734.1,204.7 735.0,204.1 735.9,203.8 736.8,204.4 737.8,203.6 738.7,204.4 739.6,204.5 740.5,204.5 741.4,203.7 742.3,203.1 743.2,204.0 744.1,203.8 745.0,203.7 745.9,203.0 746.8,202.9 747.7,202.3 748.6,201.8 749.5,201.7 750.4,202.0 751.3,201.2 752.2,201.5 753.1,201.0 754.0,200.7 754.9,201.2 755.8,199.9 756.7,200.1 757.7,199.5 758.6,199.8 759.5,199.6 760.4,199.5 761.3,199.4 761.6,209.7 761.7,213.3 761.8,216.9 761.9,220.5 762.0,224.0 762.1,227.6 762.2,231.1 762.3,234.5 762.4,238.0 762.5,241.4 762.6,244.8 762.7,248.1 762.8,251.4 762.9,254.7 762.9,258.0 763.0,261.3 763.1,264.5 763.2,267.7 763.3,270.9 763.4,274.0 763.5,277.2 763.6,280.3 763.7,283.3 763.8,286.4 763.9,289.4 764.0,292.4 764.1,295.4 764.2,298.4 764.3,301.3 764.4,304.2 764.5,307.1 764.6,310.0 764.7,312.9 764.8,315.7 764.9,318.5 765.0,321.3 765.1,324.1 765.2,326.8 765.3,329.5 765.4,332.2 765.4,334.9 765.5,337.6 765.6,340.2 765.7,342.8 765.8,345.4 765.9,348.0 766.0,350.6 766.1,353.1 766.2,355.7 766.3,358.2 766.4,360.7 766.5,363.2 766.6,365.6 766.7,368.0 766.8,370.5 766.9,372.9 767.0,375.3 767.1,377.6 767.2,380.0 767.3,382.3 767.4,384.6 767.5,386.9 767.6,389.2 767.7,391.5 767.8,393.7 767.9,396.0 768.0,398.2 768.0,400.4 768.1,402.6 768.2,404.8 768.3,406.9 768.4,409.1 768.5,411.2 768.6,413.3 768.7,415.4 768.8,417.5 768.9,419.6 769.0,421.6 769.1,423.7 769.2,425.7 769.3,427.7 769.4,429.7 769.5,431.7 769.6,433.7 769.7,435.6 769.8,437.6 769.9,439.5 770.0,441.4 770.1,443.3 770.2,445.2 770.3,447.1 770.4,449.0 770.5,450.8 770.6,452.7 770.6,454.5 770.7,456.3 770.8,458.1 770.9,459.9 771.0,461.7 771.1,463.5 771.2,465.2 771.3,467.0 771.4,468.7 771.5,470.5 771.6,472.2 771.7,473.9 771.8,475.6 771.9,477.3 772.0,478.9 772.1,480.6 772.2,482.3 772.3,483.9 772.4,485.5 772.5,487.1 772.6,488.8 772.7,490.4 772.8,491.9 772.9,493.5 773.0,495.1 773.1,496.7 773.1,498.2 773.2,499.8 773.3,501.3 773.4,502.8 773.5,504.3 773.6,505.8 773.7,507.3 773.8,508.8 773.9,510.3 774.0,511.8 774.1,513.2 774.2,514.7 774.3,516.1 774.4,517.5 774.5,519.0 774.6,520.4 774.7,521.8 774.8,523.2 774.9,524.6 775.0,526.0 775.1,527.3 775.2,528.7 775.3,530.1 775.4,531.4 775.5,532.8 775.6,534.1 775.7,535.4 775.7,536.7 775.8,538.1 775.9,539.4 776.0,540.7 776.1,542.0 776.2,543.2 776.3,544.5 776.4,545.8 776.5,547.0 776.6,548.3 776.7,549.5 776.8,550.8 776.9,552.0 777.0,553.3 777.1,554.5 777.2,555.7 777.3,556.9 777.4,558.1 777.5,559.3 777.6,560.5 777.7,561.7 777.8,562.8 777.9,564.0 778.0,565.2 778.1,566.3 778.2,567.5 778.2,568.6 778.3,569.8 778.4,570.9 778.5,572.0 778.6,573.1 778.7,574.2 778.8,575.4 778.9,576.5 779.0,577.6 779.1,578.6 779.2,579.7 779.3,580.8 779.4,581.9 779.5,583.0 779.6,584.0 779.7,585.1 779.8,586.1 779.9,587.2 780.0,588.2 780.1,589.3 780.2,590.3 780.3,591.3 780.4,592.3 780.5,593.4 780.6,594.4 780.7,595.4 780.8,596.4 780.8,597.4 780.9,598.4 781.0,599.4 781.1,600.3 781.2,601.3 781.3,602.3 781.4,603.3 781.5,604.2 781.6,605.2 781.7,606.1 781.8,607.1 781.9,608.0 782.0,609.0 782.1,609.9 782.2,610.8 782.3,611.8 782.4,612.7 782.5,613.6 782.6,614.5 782.7,615.4 782.8,616.3 782.9,617.2 783.0,618.1 783.1,619.0 783.2,619.9 783.3,620.8 783.4,621.7 783.4,622.6 783.5,623.5 783.6,624.3 783.7,625.2 783.8,626.1 783.9,626.9 784.0,627.8 784.1,628.6 784.2,629.5 784.3,630.3 784.4,631.1 784.5,632.0 784.6,632.8 784.7,633.6 784.8,634.5 784.9,635.3 785.0,636.1 785.1,636.9 785.2,637.7 785.3,638.6 785.4,639.4 785.5,640.2 785.6,641.0 785.7,641.8 785.8,642.5 785.9,643.3 785.9,644.1 786.0,644.9 786.1,645.7 786.2,646.5 786.3,647.2 786.4,648.0 786.5,648.8 786.6,649.5 786.7,650.3 786.8,651.0 786.9,651.8 787.0,652.5 787.1,653.3 787.2,654.0 787.3,654.8 787.4,655.5 787.5,656.3 787.6,657.0 787.7,657.7 787.8,658.4 787.9,659.2 788.0,659.9 788.1,660.6 788.2,661.3 788.3,662.0 788.4,662.8 788.5,663.5 788.5,664.2 788.6,664.9 788.7,665.6 788.8,666.3 788.9,667.0 789.0,667.7 789.1,668.3 789.2,669.0 789.3,669.7 789.4,670.4 789.5,671.1 789.6,671.7 789.7,672.4 789.8,673.1 789.9,673.8 790.0,674.4 790.1,675.1 790.2,675.8 790.3,676.4 790.4,677.1 790.5,677.7 790.6,678.4 790.7,679.0 790.8,679.7 790.9,680.3 791.0,681.0 791.0,681.6 791.1,682.2 791.2,682.9 791.3,683.5 791.4,684.1 791.5,684.8 791.6,685.4 791.7,686.0 791.8,686.7 791.9,687.3 792.0,687.9 792.1,688.5 792.2,689.1 792.3,689.7 792.4,690.3 792.5,691.0 792.6,691.6 792.7,692.2 792.8,692.8 792.9,693.4 793.0,694.0 793.1,694.6 793.2,695.2 793.3,695.8 793.4,696.3 793.5,696.9 793.6,697.5 793.6,698.1 793.7,698.7 793.8,699.3 793.9,699.8 794.0,700.4 794.1,701.0 794.2,701.6 794.3,702.1 794.4,702.7 794.5,703.3 794.6,703.8 794.7,704.4 794.8,705.0 794.9,705.5 795.0,706.1 795.1,706.6 795.2,707.2 795.3,707.8 795.4,708.3 795.5,708.9 795.6,709.4 795.7,709.9 795.8,710.5 795.9,711.0 796.0,711.6 796.1,712.1 796.2,712.7 796.2,713.2 796.3,713.7 796.4,714.3 796.5,714.8 796.6,715.3 796.7,715.8 796.8,716.4 796.9,716.9 797.0,717.4 797.1,717.9 797.2,718.5 797.3,719.0 797.4,719.5 797.5,720.0 797.6,720.5 797.7,721.0 797.8,721.6 797.9,722.1 798.0,722.6 798.1,723.1 798.2,723.6 798.3,724.1 798.4,724.6 798.5,725.1 798.6,725.6 798.7,726.1 798.7,726.6 798.8,727.1 798.9,727.6 799.0,728.1 799.1,728.6 799.2,729.0 799.3,729.5 799.4,730.0 799.5,730.5 799.6,731.0 799.7,731.5 799.8,732.0 799.9,732.4 800.0,732.9 800.2,733.9 801.7,741.3 803.3,748.4 804.8,755.3 806.4,761.8 807.9,768.1 809.4,774.1 811.0,780.0 812.5,785.6 814.0,791.0 815.6,796.2 817.1,801.3 818.7,806.2 820.2,810.9 821.7,815.4 823.3,819.8 824.8,824.1 826.3,828.2 827.9,832.2 829.4,836.1 831.0,839.9 832.5,843.5 834.0,847.0 835.6,850.4 837.1,853.8 838.6,857.0 840.2,860.1 841.7,863.2 843.3,866.1 844.8,869.0 846.3,871.8 847.9,874.5 849.4,877.1 850.9,879.7 852.5,882.2 854.0,884.6 855.6,886.9 857.1,889.2 858.6,891.5 860.2,893.6 861.7,895.8 863.2,897.8 864.8,899.8 866.3,901.8 867.9,903.7 869.4,905.5 870.9,907.4 872.5,909.1 874.0,910.9 875.5,912.5 877.1,914.2 878.6,915.8 880.2,917.4 881.7,918.9 883.2,920.4 884.8,921.8 886.3,923.3 887.8,924.7 889.4,926.0 890.9,927.4 892.5,928.7 894.0,929.9 895.5,931.2 897.1,932.4 898.6,933.6 900.1,934.8 901.7,935.9 903.2,937.0 904.8,938.1 906.3,939.2 907.8,940.3 909.4,941.3 910.9,942.3 912.5,943.3 914.0,944.3 915.5,945.3 917.1,946.2 918.6,947.1 920.1,948.0 921.7,948.9 923.2,949.8 924.8,950.7 926.3,951.5 927.8,952.3 929.4,953.1 930.9,953.9 932.4,954.7 934.0,955.5 935.5,956.3 937.1,957.0 938.6,957.7 940.1,958.5 941.7,959.2 943.2,959.9 944.7,960.6 946.3,961.3 947.8,961.9 949.4,962.6 950.9,963.2 952.4,963.9 954.0,964.5 955.5,965.1 957.0,965.7 958.6,966.3 960.1,966.9 961.7,967.5 963.2,968.1 964.7,968.7 966.3,969.2 967.8,969.8 969.3,970.3 970.9,970.9 972.4,971.4 974.0,971.9 975.5,972.5 977.0,973.0 978.6,973.5 980.1,974.0 981.6,974.5 983.2,975.0 984.7,975.4 986.3,975.9 987.8,976.4 989.3,976.8 990.9,977.3 992.4,977.8 993.9,978.2 995.5,978.6 997.0,979.1 998.6,979.5 1000.1,979.9 1001.6,980.3 1003.2,980.8 1004.7,981.2 1006.2,981.6 1007.8,982.0 1009.3,982.4 1010.9,982.8 1012.4,983.2 1013.9,983.5 1015.5,983.9 1017.0,984.3 1018.5,984.7 1020.1,985.0 1021.6,985.4 1023.2,985.8 1024.7,986.1 1026.2,986.5 1027.8,986.8 1029.3,987.2 1030.9,987.5 1032.4,987.8 1033.9,988.2 1035.5,988.5 1037.0,988.8 1038.5,989.1 1040.1,989.5 1041.6,989.8 1043.2,990.1 1044.7,990.4 1046.2,990.7 1047.8,991.0 1049.3,991.3 1050.8,991.6 1052.4,991.9 1053.9,992.2 1055.5,992.5 1057.0,992.8 1058.5,993.1 1060.1,993.3 1061.6,993.6 1063.1,993.9 1064.7,994.2 1066.2,994.4 1067.8,994.7 1069.3,995.0 1070.8,995.2 1072.4,995.5 1073.9,995.7 1075.4,996.0 1077.0,996.2 1078.5,996.5 1080.1,996.7 1081.6,997.0 1083.1,997.2 1084.7,997.5 1086.2,997.7 1087.7,997.9 1089.3,998.2 1090.8,998.4 1092.4,998.6 1093.9,998.8 1095.4,999.1 1097.0,999.3 1098.5,999.5 1100.0,999.7 1101.6,999.9 1103.1,1000.2 1104.7,1000.4 1106.2,1000.6 1107.7,1000.8 1109.3,1001.0 1110.8,1001.2 1112.3,1001.4 1113.9,1001.6 1115.4,1001.8 1117.0,1002.0 1118.5,1002.2 1120.0,1002.4 1121.6,1002.6 1123.1,1002.8 1124.6,1002.9 1126.2,1003.1 1127.7,1003.3 1129.3,1003.5 1130.8,1003.7 1132.3,1003.9 1133.9,1004.0 1135.4,1004.2 1137.0,1004.4 1138.5,1004.5 1140.0,1004.7 1141.6,1004.9 1143.1,1005.1 1144.6,1005.2 1146.2,1005.4 1147.7,1005.5 1149.3,1005.7 1150.8,1005.9 1152.3,1006.0 1153.9,1006.2 1155.4,1006.3 1156.9,1006.5 1158.5,1006.6 1160.0,1006.8 1161.6,1006.9 1163.1,1007.1 1164.6,1007.2 1166.2,1007.4 1167.7,1007.5 1169.2,1007.7 1170.8,1007.8 1172.3,1008.0 1173.9,1008.1 1175.4,1008.2 1176.9,1008.4 1178.5,1008.5 1180.0,1008.6 1181.5,1008.8 1183.1,1008.9 1184.6,1009.0 1186.2,1009.2 1187.7,1009.3 1189.2,1009.4 1190.8,1009.5 1192.3,1009.7 1193.8,1009.8 1195.4,1009.9 1196.9,1010.0 1198.5,1010.1 1200.0,1010.3 1201.5,1010.4 1203.1,1010.5 1204.6,1010.6 1206.1,1010.7 1207.7,1010.8 1209.2,1011.0 1210.8,1011.1 1212.3,1011.2 1213.8,1011.3 1215.4,1011.4 1216.9,1011.5 1218.4,1011.6 1220.0,1011.7 1221.5,1011.8 1223.1,1011.9 1224.6,1012.0 1226.1,1012.1 1227.7,1012.2 1229.2,1012.3 1230.7,1012.4 1232.3,1012.5 1233.8,1012.6 1235.4,1012.7 1236.9,1012.8 1238.4,1012.9 1240.0,1013.0 1241.5,1013.1 1243.1,1013.2 1244.6,1013.3 1246.1,1013.4 1247.7,1013.5 1249.2,1013.6 1250.7,1013.6 1252.3,1013.7 1253.8,1013.8 1255.4,1013.9 1256.9,1014.0 1258.4,1014.1 1260.0,1014.2 1261.5,1014.2 1263.0,1014.3 1264.6,1014.4 1266.1,1014.5 1267.7,1014.6 1269.2,1014.6 1270.7,1014.7 1272.3,1014.8 1273.8,1014.9 1275.3,1014.9 1276.9,1015.0 1278.4,1015.1 1280.0,1015.2 1281.5,1015.2 1283.0,1015.3 1284.6,1015.4 1286.1,1015.5 1287.6,1015.5 1289.2,1015.6 1290.7,1015.7 1292.3,1015.7 1293.8,1015.8 1295.3,1015.9 1296.9,1015.9 1298.4,1016.0 1299.9,1016.1 1301.5,1016.1 1303.0,1016.2 1304.6,1016.3 1306.1,1016.3 1307.6,1016.4 1309.2,1016.5 1310.7,1016.5 1312.2,1016.6 1313.8,1016.6 1315.3,1016.7 1316.9,1016.8 1318.4,1016.8 1319.9,1016.9 1321.5,1016.9 1323.0,1017.0 1324.5,1017.0 1326.1,1017.1 1327.6,1017.2 1329.2,1017.2 1330.7,1017.3 1332.2,1017.3 1333.8,1017.4 1335.3,1017.4 1336.8,1017.5 1338.4,1017.5 1339.9,1017.6 1341.5,1017.6 1343.0,1017.7 1344.5,1017.7 1346.1,1017.8 1347.6,1017.8 1349.2,1017.9 1350.7,1017.9 1352.2,1018.0 1353.8,1018.0 1355.3,1018.1 1356.8,1018.1 1358.4,1018.2 1359.9,1018.2 1361.5,1018.3 1363.0,1018.3 1364.5,1018.4 1366.1,1018.4 1367.6,1018.4 1369.1,1018.5 1370.7,1018.5 1372.2,1018.6 1373.8,1018.6 1375.3,1018.7 1376.8,1018.7 1378.4,1018.7 1379.9,1018.8 1381.4,1018.8 1383.0,1018.9 1384.5,1018.9 1386.1,1018.9 1387.6,1019.0 1389.1,1019.0 1390.7,1019.1 1392.2,1019.1 1393.7,1019.1 1395.3,1019.2 1396.8,1019.2 1398.4,1019.2 1399.9,1019.3 1401.4,1019.3 1403.0,1019.3 1404.5,1019.4 1406.0,1019.4 1407.6,1019.5 1409.1,1019.5 1410.7,1019.5 1412.2,1019.6 1413.7,1019.6 1415.3,1019.6 1416.8,1019.7 1418.3,1019.7 1419.9,1019.7 1421.4,1019.8 1423.0,1019.8 1424.5,1019.8 1426.0,1019.8 1427.6,1019.9 1429.1,1019.9 1430.6,1019.9 1432.2,1020.0 1433.7,1020.0 1435.3,1020.0 1436.8,1020.1 1438.3,1020.1 1439.9,1020.1 1441.4,1020.1 1442.9,1020.2 1444.5,1020.2 1446.0,1020.2 1447.6,1020.3 1449.1,1020.3 1450.6,1020.3 1452.2,1020.3 1453.7,1020.4 1455.2,1020.4 1456.8,1020.4 1458.3,1020.4 1459.9,1020.5 1461.4,1020.5 1462.9,1020.5 1464.5,1020.5 1466.0,1020.6 1467.6,1020.6 1469.1,1020.6 1470.6,1020.6 1472.2,1020.7 1473.7,1020.7 1475.2,1020.7 1476.8,1020.7 1478.3,1020.8 1479.9,1020.8 1481.4,1020.8 1482.9,1020.8 1484.5,1020.8 1486.0,1020.9 1487.5,1020.9 1489.1,1020.9 1490.6,1020.9 1492.2,1021.0 1493.7,1021.0 1495.2,1021.0 1496.8,1021.0 1498.3,1021.0 1499.8,1021.1 1501.4,1021.1 1502.9,1021.1 1504.5,1021.1 1506.0,1021.1 1507.5,1021.2 1509.1,1021.2 1510.6,1021.2 1512.1,1021.2 1513.7,1021.2 1515.2,1021.2 1516.8,1021.3 1518.3,1021.3 1519.8,1021.3 1521.4,1021.3 1522.9,1021.3 1524.4,1021.4 1526.0,1021.4 1527.5,1021.4 1529.1,1021.4 1530.6,1021.4 1532.1,1021.4 1533.7,1021.5 1535.2,1021.5 1536.7,1021.5 1538.3,1021.5 1539.8,1021.5 1541.4,1021.5 1542.9,1021.6 1544.4,1021.6 1546.0,1021.6 1547.5,1021.6 1549.0,1021.6 1550.6,1021.6 1552.1,1021.6 1553.7,1021.7 1555.2,1021.7 1556.7,1021.7 1558.3,1021.7 1559.8,1021.7 1561.3,1021.7 1562.9,1021.7 1564.4,1021.8 1566.0,1021.8 1567.5,1021.8" fill="none" stroke="#000000" stroke-width="3.5" stroke-linejoin="round" stroke-linecap="butt"/>
<rect x="439" y="96" width="323" height="958" fill="#0000ff" fill-opacity="0.09"/>
<g font-family="'Liberation Sans', Arial, sans-serif" font-size="54" fill="#000">
<text transform="translate(278.50,1129.6) scale(1,1.04)" text-anchor="middle">0</text>
<text transform="translate(439.50,1129.6) scale(1,1.04)" text-anchor="middle">100</text>
<text transform="translate(600.50,1129.6) scale(1,1.04)" text-anchor="middle">200</text>
<text transform="translate(761.50,1129.6) scale(1,1.04)" text-anchor="middle">300</text>
<text transform="translate(922.50,1129.6) scale(1,1.04)" text-anchor="middle">400</text>
<text transform="translate(1083.50,1129.6) scale(1,1.04)" text-anchor="middle">500</text>
<text transform="translate(1244.50,1129.6) scale(1,1.04)" text-anchor="middle">600</text>
<text transform="translate(1405.50,1129.6) scale(1,1.04)" text-anchor="middle">700</text>
<text transform="translate(1566.50,1129.6) scale(1,1.04)" text-anchor="middle">800</text>
<text transform="translate(247.5,1051.70) scale(1,1.04)" text-anchor="end">0</text>
<text transform="translate(247.5,843.08) scale(1,1.04)" text-anchor="end">10</text>
<text transform="translate(247.5,634.45) scale(1,1.04)" text-anchor="end">20</text>
<text transform="translate(247.5,425.82) scale(1,1.04)" text-anchor="end">30</text>
<text transform="translate(247.5,217.20) scale(1,1.04)" text-anchor="end">40</text>
</g>
<text font-family="'Liberation Sans', Arial, sans-serif" font-size="49.6" fill="#000" text-anchor="middle"><tspan x="608.4" y="576.9">pump beam</tspan><tspan x="601.4" y="637.5">on</tspan></text>
<text font-family="'Liberation Sans', Arial, sans-serif" font-size="80" x="853.7" y="1244.3" fill="#000">t (s)</text>
<g transform="rotate(-90)" fill="#000"><text font-family="'Liberation Serif', 'Times New Roman', serif" font-size="83" x="-714.3" y="90.6">φ</text><text font-family="'Liberation Sans', Arial, sans-serif" font-size="79.5"><tspan x="-642.8" y="89.5">(</tspan><tspan x="-615.5" y="49" font-size="48">o</tspan><tspan x="-588.5" y="89.5">)</tspan></text></g>
<rect x="1077.5" y="760.5" width="456" height="120.5" fill="none" stroke="#000" stroke-width="1.5"/>
<line x1="1095" y1="793" x2="1206" y2="793" stroke="#00ff00" stroke-width="5.6" stroke-linecap="round"/>
<line x1="1094" y1="853.5" x2="1207" y2="853.5" stroke="#000" stroke-width="3"/>
<text font-family="'Liberation Sans', Arial, sans-serif" font-size="50" fill="#000" transform="translate(1220,809.8) scale(1,1.035)">PMMA1+DR1</text>
<text font-family="'Liberation Sans', Arial, sans-serif" font-size="50" fill="#000" transform="translate(1220,870.8) scale(1,1.035)">pDR1</text>
<rect x="963" y="40" width="606" height="461" fill="none" stroke="#000" stroke-width="2"/>
<g stroke="#000" stroke-width="2">
<line x1="953" y1="485.00" x2="963" y2="485.00"/>
<line x1="957" y1="429.39" x2="963" y2="429.39"/>
<line x1="953" y1="373.78" x2="963" y2="373.78"/>
<line x1="957" y1="318.17" x2="963" y2="318.17"/>
<line x1="953" y1="262.56" x2="963" y2="262.56"/>
<line x1="957" y1="206.95" x2="963" y2="206.95"/>
<line x1="953" y1="151.34" x2="963" y2="151.34"/>
<line x1="957" y1="95.73" x2="963" y2="95.73"/>
<line x1="953" y1="40.12" x2="963" y2="40.12"/>
<line x1="963.00" y1="501" x2="963.00" y2="511"/>
<line x1="1023.60" y1="501" x2="1023.60" y2="507"/>
<line x1="1084.20" y1="501" x2="1084.20" y2="511"/>
<line x1="1144.80" y1="501" x2="1144.80" y2="507"/>
<line x1="1205.40" y1="501" x2="1205.40" y2="511"/>
<line x1="1266.00" y1="501" x2="1266.00" y2="507"/>
<line x1="1326.60" y1="501" x2="1326.60" y2="511"/>
<line x1="1387.20" y1="501" x2="1387.20" y2="507"/>
<line x1="1447.80" y1="501" x2="1447.80" y2="511"/>
<line x1="1508.40" y1="501" x2="1508.40" y2="507"/>
<line x1="1569.00" y1="501" x2="1569.00" y2="511"/>
</g>
<defs><clipPath id="ic"><rect x="962" y="0" width="700" height="600"/></clipPath></defs>
<polyline clip-path="url(#ic)" points="960.0,481.5 963.0,482.0 966.6,490.5 971.0,482.5 975.0,481.0 976.5,470.0 978.5,462.0 980.2,455.2 983.5,455.2 983.5,446.4 985.3,446.4 985.3,441.4 988.6,441.4 988.6,435.0 991.7,435.0 991.7,427.7 994.0,427.7 994.0,424.9 996.0,424.9 996.0,421.2 998.3,421.2 998.3,416.7 1000.8,416.7 1000.8,409.2 1003.9,409.2 1003.9,401.3 1007.4,401.3 1007.4,394.4 1009.0,394.4 1009.0,392.4 1010.4,392.4 1010.4,393.6 1012.9,393.6 1012.9,385.8 1016.2,385.8 1016.2,384.3 1018.7,384.3 1018.7,379.2 1020.6,379.2 1020.6,379.5 1022.3,379.5 1022.3,376.5 1024.1,376.5 1024.1,373.8 1025.4,373.8 1025.4,375.6 1027.0,375.6 1027.0,373.0 1030.3,373.0 1030.3,369.1 1033.5,369.1 1033.5,365.2 1036.4,365.2 1036.4,358.2 1038.9,358.2 1038.9,357.1 1042.2,357.1 1042.2,358.5 1044.8,358.5 1044.8,351.0 1047.0,351.0 1047.0,350.2 1048.6,350.2 1048.6,349.5 1050.8,349.5 1050.8,347.6 1053.4,347.6 1053.4,342.1 1056.1,342.1 1056.1,338.4 1057.8,338.4 1057.8,334.6 1059.6,334.6 1059.6,333.9 1061.2,333.9 1061.2,335.9 1063.0,335.9 1063.0,331.6 1064.9,331.6 1064.9,325.7 1067.7,325.7 1067.7,325.3 1070.9,325.3 1070.9,325.0 1074.2,325.0 1074.2,321.0 1075.8,321.0 1075.8,323.2 1079.2,323.2 1079.2,317.9 1080.9,317.9 1080.9,315.7 1083.7,315.7 1083.7,310.7 1085.8,310.7 1085.8,309.0 1087.7,309.0 1087.7,309.9 1090.9,309.9 1090.9,308.4 1093.4,308.4 1093.4,307.7 1096.4,307.7 1096.4,304.9 1098.5,304.9 1098.5,302.4 1100.1,302.4 1100.1,295.5 1102.9,295.5 1102.9,293.0 1105.4,293.0 1105.4,297.7 1107.4,297.7 1107.4,293.1 1110.3,293.1 1110.3,291.8 1112.7,291.8 1112.7,288.8 1116.1,288.8 1116.1,287.3 1119.4,287.3 1119.4,283.9 1122.4,283.9 1122.4,279.1 1124.0,279.1 1124.0,277.0 1127.1,277.0 1127.1,276.6 1129.8,276.6 1129.8,273.8 1132.3,273.8 1132.3,268.5 1134.1,268.5 1134.1,270.6 1136.2,270.6 1136.2,271.9 1138.3,271.9 1138.3,271.5 1140.9,271.5 1140.9,270.3 1142.8,270.3 1142.8,264.2 1145.1,264.2 1145.1,266.7 1147.6,266.7 1147.6,263.3 1150.8,263.3 1150.8,258.6 1153.4,258.6 1153.4,256.6 1156.7,256.6 1156.7,253.7 1160.0,253.7 1160.0,250.0 1162.3,250.0 1162.3,250.2 1165.7,250.2 1165.7,249.2 1168.8,249.2 1168.8,247.0 1171.7,247.0 1171.7,245.8 1173.8,245.8 1173.8,244.1 1175.5,244.1 1175.5,241.7 1177.3,241.7 1177.3,240.2 1180.5,240.2 1180.5,240.2 1182.9,240.2 1182.9,235.8 1185.6,235.8 1185.6,234.4 1189.1,234.4 1189.1,235.5 1191.8,235.5 1191.8,233.9 1193.5,233.9 1193.5,233.8 1195.7,233.8 1195.7,231.5 1198.8,231.5 1198.8,226.9 1200.4,226.9 1200.4,226.1 1203.5,226.1 1203.5,225.4 1206.0,225.4 1206.0,223.4 1207.4,223.4 1207.4,222.8 1208.7,222.8 1208.7,222.8 1210.6,222.8 1210.6,223.6 1213.2,223.6 1213.2,220.2 1215.8,220.2 1215.8,221.2 1218.6,221.2 1218.6,218.4 1220.6,218.4 1220.6,218.6 1223.1,218.6 1223.1,218.2 1225.9,218.2 1225.9,218.5 1227.6,218.5 1227.6,217.0 1229.0,217.0 1229.0,216.0 1232.5,216.0 1232.5,215.3 1233.9,215.3 1233.9,208.1 1235.9,208.1 1235.9,205.3 1238.6,205.3 1238.6,207.1 1240.6,207.1 1240.6,201.1 1243.7,201.1 1243.7,201.8 1246.7,201.8 1246.7,201.3 1248.5,201.3 1248.5,197.5 1251.2,197.5 1251.2,195.8 1252.7,195.8 1252.7,198.2 1255.4,198.2 1255.4,198.1 1258.5,198.1 1258.5,194.8 1261.4,194.8 1261.4,192.0 1264.7,192.0 1264.7,189.9 1266.1,189.9 1266.1,191.4 1267.9,191.4 1267.9,187.8 1271.3,187.8 1271.3,187.6 1273.2,187.6 1273.2,184.5 1275.9,184.5 1275.9,186.8 1278.1,186.8 1278.1,186.1 1280.9,186.1 1280.9,187.3 1283.0,187.3 1283.0,180.1 1285.5,180.1 1285.5,176.4 1287.4,176.4 1287.4,177.0 1289.7,177.0 1289.7,181.1 1292.7,181.1 1292.7,176.8 1294.7,176.8 1294.7,179.5 1297.7,179.5 1297.7,177.5 1299.3,177.5 1299.3,176.4 1300.8,176.4 1300.8,176.7 1302.7,176.7 1302.7,172.7 1305.8,172.7 1305.8,170.5 1307.6,170.5 1307.6,168.1 1310.8,168.1 1310.8,168.5 1313.7,168.5 1313.7,172.0 1316.6,172.0 1316.6,168.2 1319.8,168.2 1319.8,167.5 1321.9,167.5 1321.9,166.5 1324.4,166.5 1324.4,165.1 1326.1,165.1 1326.1,163.4 1328.6,163.4 1328.6,165.0 1331.9,165.0 1331.9,162.3 1333.6,162.3 1333.6,159.7 1336.4,159.7 1336.4,154.8 1339.9,154.8 1339.9,157.5 1343.1,157.5 1343.1,157.6 1345.2,157.6 1345.2,156.4 1347.0,156.4 1347.0,154.6 1350.0,154.6 1350.0,156.6 1352.3,156.6 1352.3,153.8 1354.5,153.8 1354.5,150.7 1357.7,150.7 1357.7,150.7 1359.8,150.7 1359.8,148.7 1362.8,148.7 1362.8,147.5 1365.9,147.5 1365.9,145.5 1368.1,145.5 1368.1,144.6 1371.1,144.6 1371.1,140.4 1372.7,140.4 1372.7,139.8 1375.8,139.8 1375.8,138.8 1377.4,138.8 1377.4,136.9 1380.9,136.9 1380.9,137.2 1383.5,137.2 1383.5,138.2 1386.5,138.2 1386.5,135.4 1389.8,135.4 1389.8,139.9 1392.8,139.9 1392.8,136.7 1395.2,136.7 1395.2,135.9 1397.2,135.9 1397.2,132.1 1400.1,132.1 1400.1,129.8 1401.6,129.8 1401.6,134.1 1404.8,134.1 1404.8,133.1 1406.7,133.1 1406.7,130.8 1408.5,130.8 1408.5,126.8 1410.9,126.8 1410.9,130.5 1412.6,130.5 1412.6,126.8 1415.0,126.8 1415.0,125.3 1417.8,125.3 1417.8,124.6 1420.3,124.6 1420.3,125.0 1422.8,125.0 1422.8,123.9 1425.3,123.9 1425.3,122.9 1428.3,122.9 1428.3,125.9 1430.0,125.9 1430.0,123.4 1431.6,123.4 1431.6,122.6 1435.0,122.6 1435.0,117.3 1438.4,117.3 1438.4,118.6 1440.9,118.6 1440.9,113.7 1444.2,113.7 1444.2,112.8 1446.2,112.8 1446.2,118.6 1447.7,118.6 1447.7,114.7 1450.0,114.7 1450.0,113.8 1453.0,113.8 1453.0,110.2 1456.0,110.2 1456.0,107.9 1459.2,107.9 1459.2,111.0 1462.2,111.0 1462.2,108.7 1463.8,108.7 1463.8,108.2 1467.5,107.5 1469.5,99.0 1470.5,94.5 1471.5,100.0 1472.5,110.9 1475.1,110.9 1475.1,113.0 1478.5,113.0 1478.5,120.2 1481.0,120.2 1481.0,127.7 1484.4,127.7 1484.4,129.5 1487.5,129.5 1487.5,134.8 1490.6,134.8 1490.6,140.5 1493.3,140.5 1493.3,138.6 1495.6,138.6 1495.6,143.6 1498.4,143.6 1498.4,140.4 1500.5,140.4 1500.5,145.8 1502.3,145.8 1502.3,146.4 1505.3,146.4 1505.3,146.3 1508.2,146.3 1508.2,149.6 1511.6,149.6 1511.6,151.2 1513.9,151.2 1513.9,149.6 1516.3,149.6 1516.3,156.4 1517.8,156.4 1517.8,160.2 1520.4,160.2 1520.4,157.4 1521.8,157.4 1521.8,157.6 1524.5,157.6 1524.5,158.5 1526.0,158.5 1526.0,159.5 1527.8,159.5 1527.8,157.9 1531.0,157.9 1531.0,163.7 1533.4,163.7 1533.4,164.5 1536.2,164.5 1536.2,162.9 1539.3,162.9 1539.3,163.8 1542.0,163.8 1542.0,163.9 1544.8,163.9 1544.8,165.7 1547.0,165.7 1547.0,168.9 1549.2,168.9 1549.2,170.8 1551.4,170.8 1551.4,167.6 1554.4,167.6 1554.4,169.2 1556.4,169.2 1556.4,167.5" fill="none" stroke="#00ff00" stroke-width="6.5" stroke-linejoin="miter" stroke-linecap="square"/>
<rect x="970.3" y="41" width="497.5" height="457.8" fill="#0000ff" fill-opacity="0.09"/>
<g stroke="#0000ff" stroke-opacity="0.065" stroke-width="1.8"><line x1="971.2" y1="41" x2="971.2" y2="498.8"/><line x1="1466.9" y1="41" x2="1466.9" y2="498.8"/></g>
<g font-family="'Liberation Sans', Arial, sans-serif" font-size="31" fill="#000">
<text transform="translate(949.4,493.60) scale(1,1.03)" text-anchor="end" font-size="32">0.0</text>
<text transform="translate(949.4,382.38) scale(1,1.03)" text-anchor="end" font-size="32">0.2</text>
<text transform="translate(949.4,271.16) scale(1,1.03)" text-anchor="end" font-size="32">0.4</text>
<text transform="translate(949.4,159.94) scale(1,1.03)" text-anchor="end" font-size="32">0.6</text>
<text transform="translate(949.4,48.72) scale(1,1.03)" text-anchor="end" font-size="32">0.8</text>
<text transform="translate(963.00,540.6) scale(1,1.03)" text-anchor="middle">0</text>
<text transform="translate(1084.20,540.6) scale(1,1.03)" text-anchor="middle">1000</text>
<text transform="translate(1205.40,540.6) scale(1,1.03)" text-anchor="middle">2000</text>
<text transform="translate(1326.60,540.6) scale(1,1.03)" text-anchor="middle">3000</text>
<text transform="translate(1447.80,540.6) scale(1,1.03)" text-anchor="middle">4000</text>
<text transform="translate(1569.00,540.6) scale(1,1.03)" text-anchor="middle">5000</text>
</g>
<text font-family="'Liberation Sans', Arial, sans-serif" font-size="35.5" x="1089" y="383.2" fill="#000">pump beam on</text>
<text font-family="'Liberation Sans', Arial, sans-serif" font-size="53" x="1220" y="591.8" fill="#000">t (s)</text>
<g fill="#000"><text font-family="'Liberation Serif', 'Times New Roman', serif" font-size="51.3" transform="translate(886.3,315.1) rotate(-90) scale(1.13,1)">φ</text><text font-family="'Liberation Sans', Arial, sans-serif" font-size="53" transform="rotate(-90)"><tspan x="-269.2" y="886.2">(</tspan><tspan x="-252.1" y="860.7" font-size="31">o</tspan><tspan x="-233" y="886.2">)</tspan></text></g>
</svg>
</body></html>
